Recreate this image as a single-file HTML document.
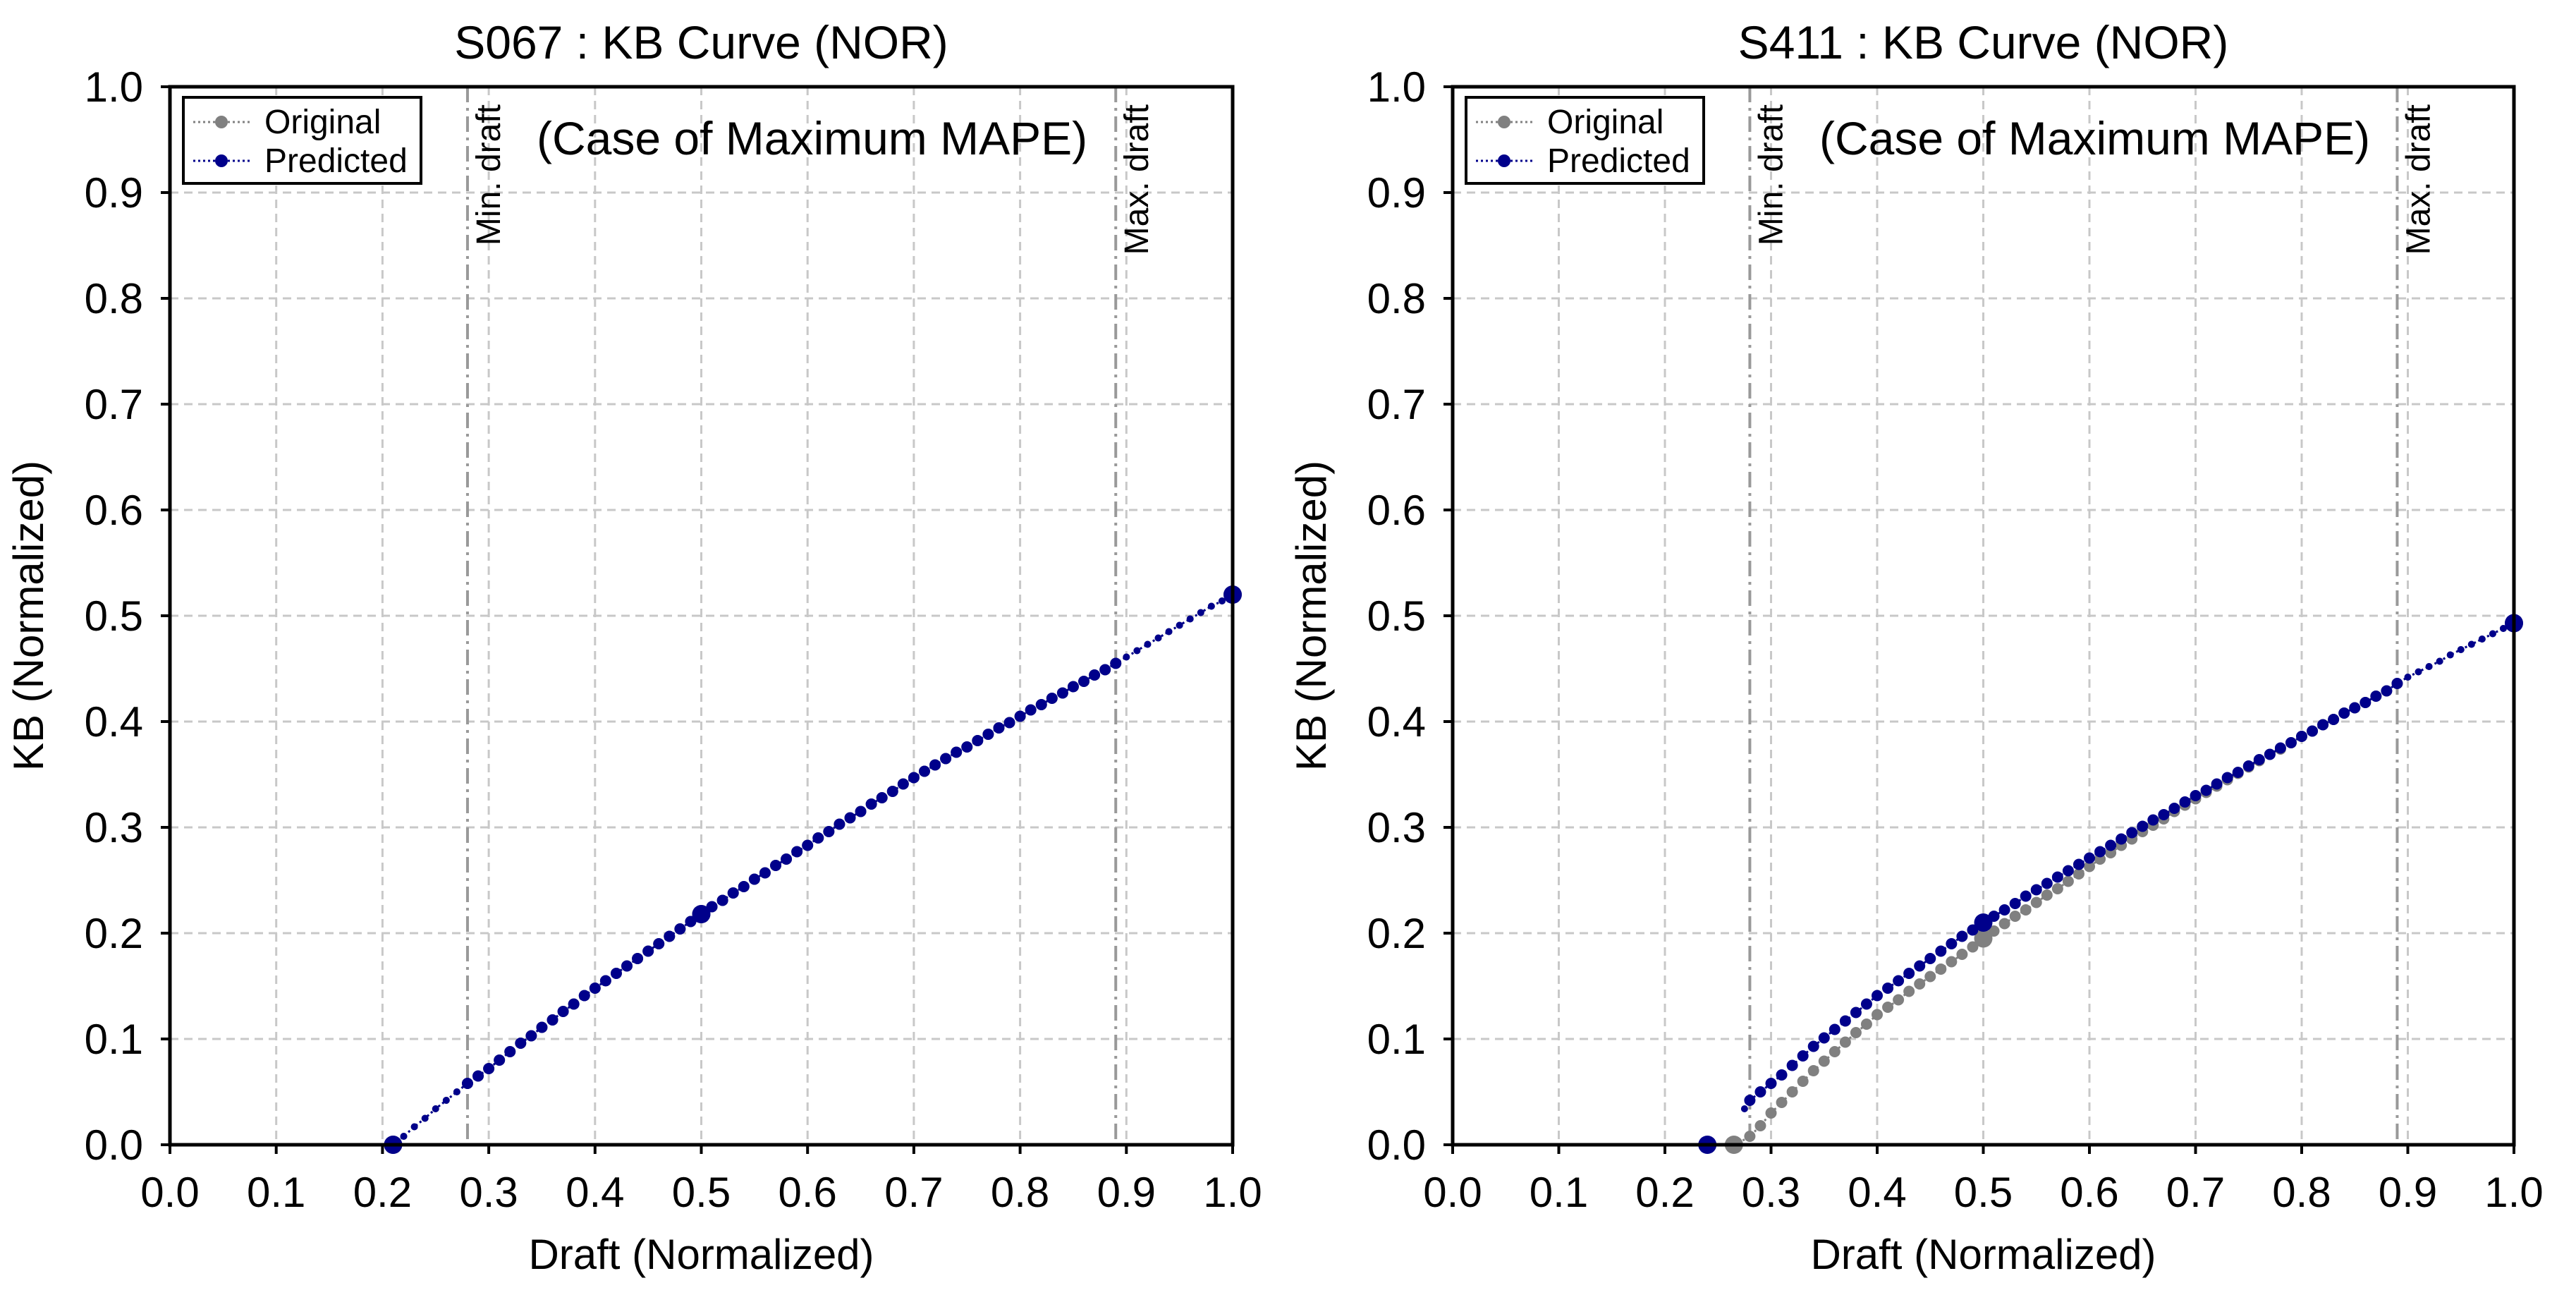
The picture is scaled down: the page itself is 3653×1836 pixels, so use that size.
<!DOCTYPE html>
<html><head><meta charset="utf-8"><style>
html,body{margin:0;padding:0;background:#fff;}
svg{display:block;font-family:"Liberation Sans",Arial,sans-serif;}
</style></head><body>
<svg id="chart" width="3653" height="1836" viewBox="0 0 3653 1836" xmlns="http://www.w3.org/2000/svg"></svg>
<script>
// ---------- data ----------
const xTicks = ["0.0","0.1","0.2","0.3","0.4","0.5","0.6","0.7","0.8","0.9","1.0"];
const yTicks = ["0.0","0.1","0.2","0.3","0.4","0.5","0.6","0.7","0.8","0.9","1.0"];
const minDraft = 0.28;
const maxDraft = 0.89;

const leftX = [0.21,0.22,0.23,0.24,0.25,0.26,0.27,0.28,0.29,0.30,0.31,0.32,0.33,0.34,0.35,0.36,0.37,0.38,0.39,0.40,0.41,0.42,0.43,0.44,0.45,0.46,0.47,0.48,0.49,0.50,0.51,0.52,0.53,0.54,0.55,0.56,0.57,0.58,0.59,0.60,0.61,0.62,0.63,0.64,0.65,0.66,0.67,0.68,0.69,0.70,0.71,0.72,0.73,0.74,0.75,0.76,0.77,0.78,0.79,0.80,0.81,0.82,0.83,0.84,0.85,0.86,0.87,0.88,0.89,0.90,0.91,0.92,0.93,0.94,0.95,0.96,0.97,0.98,0.99,1.00];
const leftOriginal = [0.000,0.008,0.017,0.025,0.034,0.042,0.050,0.058,0.065,0.072,0.080,0.088,0.096,0.103,0.111,0.118,0.126,0.133,0.141,0.148,0.155,0.162,0.169,0.176,0.183,0.190,0.197,0.204,0.211,0.218,0.225,0.231,0.238,0.244,0.251,0.257,0.264,0.270,0.277,0.283,0.290,0.296,0.303,0.309,0.315,0.322,0.328,0.334,0.341,0.347,0.353,0.359,0.365,0.371,0.376,0.382,0.388,0.394,0.399,0.405,0.411,0.416,0.422,0.427,0.433,0.438,0.444,0.449,0.455,0.461,0.467,0.473,0.479,0.485,0.491,0.497,0.503,0.509,0.514,0.520];
const leftPredicted = [0.000,0.008,0.017,0.025,0.034,0.042,0.050,0.058,0.065,0.072,0.080,0.088,0.096,0.103,0.111,0.118,0.126,0.133,0.141,0.148,0.155,0.162,0.169,0.176,0.183,0.190,0.197,0.204,0.211,0.218,0.225,0.231,0.238,0.244,0.251,0.257,0.264,0.270,0.277,0.283,0.290,0.296,0.303,0.309,0.315,0.322,0.328,0.334,0.341,0.347,0.353,0.359,0.365,0.371,0.376,0.382,0.388,0.394,0.399,0.405,0.411,0.416,0.422,0.427,0.433,0.438,0.444,0.449,0.455,0.461,0.467,0.473,0.479,0.485,0.491,0.497,0.503,0.509,0.514,0.520];
const leftBigX = [0.21,0.50,1.00];

const rightOrigX = [0.265,0.27,0.28,0.29,0.30,0.31,0.32,0.33,0.34,0.35,0.36,0.37,0.38,0.39,0.40,0.41,0.42,0.43,0.44,0.45,0.46,0.47,0.48,0.49,0.50,0.51,0.52,0.53,0.54,0.55,0.56,0.57,0.58,0.59,0.60,0.61,0.62,0.63,0.64,0.65,0.66,0.67,0.68,0.69,0.70,0.71,0.72,0.73,0.74,0.75,0.76,0.77,0.78,0.79,0.80,0.81,0.82,0.83,0.84,0.85,0.86,0.87,0.88,0.89,0.90,0.91,0.92,0.93,0.94,0.95,0.96,0.97,0.98,0.99,1.00];
const rightOriginal = [0.000,0.002,0.008,0.018,0.030,0.040,0.050,0.060,0.070,0.079,0.088,0.097,0.106,0.114,0.123,0.130,0.137,0.145,0.152,0.159,0.166,0.173,0.180,0.187,0.195,0.202,0.209,0.216,0.222,0.229,0.236,0.242,0.249,0.256,0.263,0.270,0.276,0.283,0.289,0.296,0.302,0.308,0.315,0.321,0.327,0.333,0.339,0.345,0.351,0.357,0.363,0.369,0.374,0.380,0.386,0.391,0.397,0.402,0.408,0.413,0.418,0.424,0.429,0.436,0.442,0.447,0.452,0.457,0.463,0.468,0.473,0.478,0.483,0.488,0.493];
const rightPredX = [0.24,0.275,0.28,0.29,0.30,0.31,0.32,0.33,0.34,0.35,0.36,0.37,0.38,0.39,0.40,0.41,0.42,0.43,0.44,0.45,0.46,0.47,0.48,0.49,0.50,0.51,0.52,0.53,0.54,0.55,0.56,0.57,0.58,0.59,0.60,0.61,0.62,0.63,0.64,0.65,0.66,0.67,0.68,0.69,0.70,0.71,0.72,0.73,0.74,0.75,0.76,0.77,0.78,0.79,0.80,0.81,0.82,0.83,0.84,0.85,0.86,0.87,0.88,0.89,0.90,0.91,0.92,0.93,0.94,0.95,0.96,0.97,0.98,0.99,1.00];
const rightPredicted = [0.000,0.034,0.042,0.050,0.058,0.066,0.075,0.084,0.093,0.101,0.109,0.117,0.125,0.133,0.141,0.148,0.155,0.162,0.169,0.176,0.183,0.190,0.197,0.203,0.210,0.216,0.222,0.228,0.235,0.241,0.247,0.253,0.259,0.265,0.271,0.277,0.283,0.289,0.295,0.301,0.307,0.312,0.318,0.324,0.330,0.335,0.341,0.347,0.352,0.358,0.364,0.369,0.375,0.380,0.386,0.391,0.397,0.402,0.408,0.413,0.418,0.424,0.429,0.436,0.442,0.447,0.452,0.457,0.463,0.468,0.473,0.478,0.483,0.488,0.493];
const rightOrigBigX = [0.265,0.50,1.00];
const rightPredBigX = [0.24,0.50,1.00];

// ---------- drawing ----------
const NS = "http://www.w3.org/2000/svg";
const svg = document.getElementById("chart");
function mk(tag, attrs, parent){
  const e = document.createElementNS(NS, tag);
  for (const k in attrs) e.setAttribute(k, attrs[k]);
  (parent||svg).appendChild(e);
  return e;
}
const T = 123, B = 1623;

function panel(id, x0, x1, title, series){
  const g = mk("g", {});
  
  
  const sx = v => x0 + v * (x1 - x0);
  const sy = v => B - v * (B - T);

  xTicks.forEach((t,i)=>{
    const v = parseFloat(t);
    if (i>0 && i<xTicks.length-1){
      const l = mk("line",{x1:sx(v),x2:sx(v),y1:T,y2:B,stroke:"#c8c8c8","stroke-width":3,"stroke-dasharray":"12,8"},g);
      
      
    }
  });
  yTicks.forEach((t,i)=>{
    const v = parseFloat(t);
    if (i>0 && i<yTicks.length-1){
      const l = mk("line",{x1:x0,x2:x1,y1:sy(v),y2:sy(v),stroke:"#c8c8c8","stroke-width":3,"stroke-dasharray":"12,8"},g);
      
      
    }
  });
  [[minDraft,"Min. draft","min-draft"],[maxDraft,"Max. draft","max-draft"]].forEach(([v,txt,nm])=>{
    const l = mk("line",{x1:sx(v),x2:sx(v),y1:T,y2:B,stroke:"#999","stroke-width":4,"stroke-dasharray":"22,8,4,8"},g);
    
    
    const tx = mk("text",{x:0,y:0,transform:`translate(${sx(v)+46},${148}) rotate(-90)`,"text-anchor":"end","font-size":48,fill:"#000"},g);
    tx.textContent = txt;
    
    
  });

  series.forEach(s=>{
    let d = "";
    s.xs.forEach((x,i)=>{
      const cmd = (i===0 || x - s.xs[i-1] > 0.02) ? "M" : "L";
      d += cmd + sx(x) + "," + sy(s.ys[i]) + " ";
    });
    const pl = mk("path",{d:d,fill:"none",stroke:s.color,"stroke-width":3,"stroke-dasharray":"3,4"},g);
    
    
    s.xs.forEach((x,i)=>{
      let r = (x < minDraft-0.001 || x > maxDraft+0.001) ? 5 : 8;
      if (s.big.some(b=>Math.abs(b-x)<1e-6)) r = 13;
      const c = mk("circle",{cx:sx(x),cy:sy(s.ys[i]),r:r,fill:s.color},g);
      
      
    });
  });

  const fr = mk("rect",{x:x0,y:T,width:x1-x0,height:B-T,fill:"none",stroke:"#000","stroke-width":5},g);
  
  

  xTicks.forEach(t=>{
    const v = parseFloat(t);
    const l = mk("line",{x1:sx(v),x2:sx(v),y1:B,y2:B+13,stroke:"#000","stroke-width":4},g);
    
    
    const tx = mk("text",{x:sx(v),y:1711,"text-anchor":"middle","font-size":60,fill:"#000"},g);
    tx.textContent = t;
    
    
  });
  yTicks.forEach(t=>{
    const v = parseFloat(t);
    const l = mk("line",{x1:x0-13,x2:x0,y1:sy(v),y2:sy(v),stroke:"#000","stroke-width":4},g);
    
    
    const tx = mk("text",{x:x0-38,y:sy(v)+21,"text-anchor":"end","font-size":60,fill:"#000"},g);
    tx.textContent = t;
    
    
  });

  const ti = mk("text",{x:(x0+x1)/2,y:83,"text-anchor":"middle","font-size":66,fill:"#000"},g);
  ti.textContent = title;
  
  
  const xl = mk("text",{x:(x0+x1)/2,y:1799,"text-anchor":"middle","font-size":60,fill:"#000"},g);
  xl.textContent = "Draft (Normalized)";
  
  
  const yl = mk("text",{x:0,y:0,transform:`translate(${x0-180},${(T+B)/2}) rotate(-90)`,"text-anchor":"middle","font-size":60,fill:"#000"},g);
  yl.textContent = "KB (Normalized)";
  
  
  const cs = mk("text",{x:x0+520,y:219,"font-size":66,fill:"#000"},g);
  cs.textContent = "(Case of Maximum MAPE)";
  
  

  const lg = mk("g",{},g);
  
  
  const lb = mk("rect",{x:x0+19,y:138,width:337,height:122,fill:"#fff",stroke:"#000","stroke-width":4},lg);
  
  
  [["Original","#808080",173],["Predicted","#00008b",228]].forEach(([lab,col,yy])=>{
    const e = mk("g",{},lg);
    
    
    mk("line",{x1:x0+33,x2:x0+113,y1:yy,y2:yy,stroke:col,"stroke-width":3,"stroke-dasharray":"3,4"},e);
    mk("circle",{cx:x0+73,cy:yy,r:9,fill:col},e);
    const t = mk("text",{x:x0+134,y:yy+16,"font-size":48,fill:"#000"},e);
    t.textContent = lab;
  });
}

panel("left", 241, 1748, "S067 : KB Curve (NOR)", [
  {name:"left-original", xs:leftX, ys:leftOriginal, color:"#808080", big:leftBigX},
  {name:"left-predicted", xs:leftX, ys:leftPredicted, color:"#00008b", big:leftBigX}
]);
panel("right", 2060, 3565, "S411 : KB Curve (NOR)", [
  {name:"right-original", xs:rightOrigX, ys:rightOriginal, color:"#808080", big:rightOrigBigX},
  {name:"right-predicted", xs:rightPredX, ys:rightPredicted, color:"#00008b", big:rightPredBigX}
]);
</script>
</body></html>
